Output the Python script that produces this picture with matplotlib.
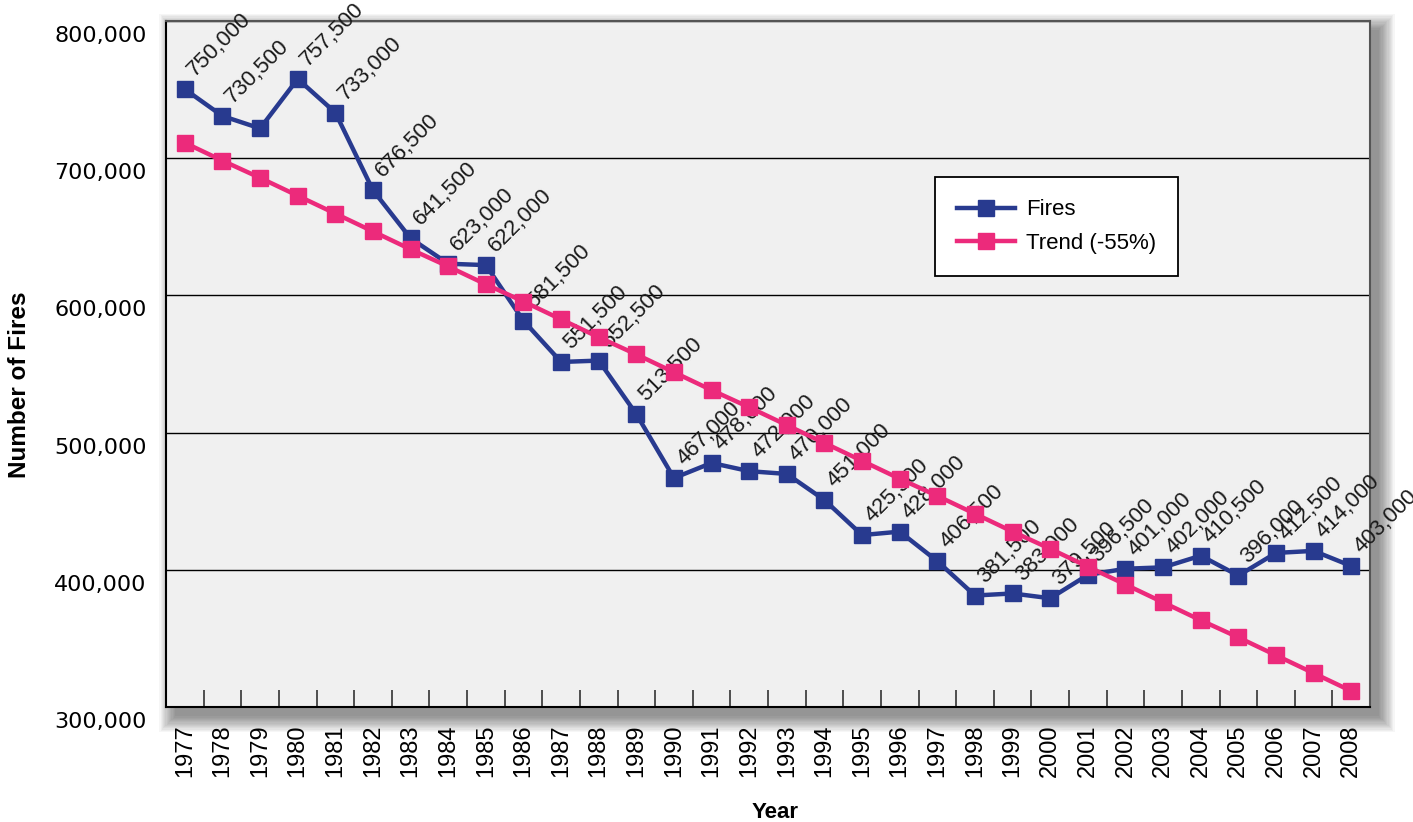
import numpy as np
import matplotlib.pyplot as plt
from matplotlib.patches import Rectangle
from matplotlib.transforms import ScaledTranslation

# Fires per year and the fitted trend line
years = list(range(1977, 2009))
fires = [750000, 730500, 721500, 757500, 733000, 676500, 641500, 623000,
         622000, 581500, 551500, 552500, 513500, 467000, 478000, 472000,
         470000, 451000, 425500, 428000, 406500, 381500, 383000, 379500,
         396500, 401000, 402000, 410500, 396000, 412500, 414000, 403000]
trend = [711000, 698000, 685500, 672500, 659500, 646500, 633500, 621000,
         608000, 595500, 582500, 569500, 557000, 544000, 531000, 518500,
         505500, 492500, 479500, 466500, 454000, 441000, 428000, 415500,
         402500, 389500, 376500, 363500, 351000, 338000, 325000, 312000]
# 1979 carries no value label
labelled = [y != 1979 for y in years]
y_ticks = [300000, 400000, 500000, 600000, 700000, 800000]

fires_color = '#283a8f'
trend_color = '#ec2a7b'
arial = 'Liberation Sans'

fig = plt.figure(figsize=(14.13, 8.22), dpi=100)
ax_rect = [0.1175, 0.1393, 0.8521, 0.8357]
ax = fig.add_axes(ax_rect)
ax.set_facecolor('#f0f0f0')

# soft drop shadow behind the plot area
W, H = 1413, 822
for i in range(14):
    grow = i * 1.2 / W
    growy = i * 1.2 / H
    fig.add_artist(Rectangle((ax_rect[0] + 9 / W - grow, ax_rect[1] - 9 / H - growy),
                             ax_rect[2] + 2 * grow, ax_rect[3] + 2 * growy,
                             transform=fig.transFigure, facecolor='black',
                             edgecolor='none', alpha=0.035, zorder=-10))

x = np.arange(len(years))
ax.plot(x, fires, color=fires_color, lw=3.2, marker='s', ms=11, label='Fires', zorder=4)
ax.plot(x, trend, color=trend_color, lw=3.2, marker='s', ms=11, label='Trend (-55%)', zorder=5)

for xi, v, keep in zip(x, fires, labelled):
    if keep:
        ax.annotate(f'{v:,}', (xi, v), xytext=(10, 12), textcoords='offset pixels',
                    rotation=45, rotation_mode='anchor', ha='left', va='baseline',
                    fontsize=16, family=arial, color='#1a1a1a', zorder=3)

ax.set_xlim(-0.5, len(years) - 0.5)
ax.set_ylim(300000, 800000)

ax.set_yticks(y_ticks)
ax.set_yticklabels([f'{v:,}' for v in y_ticks], fontsize=16)
ax.yaxis.grid(True, color='black', lw=1)
ax.set_axisbelow(True)
ax.tick_params(axis='y', length=0, pad=14)
shift = ScaledTranslation(0, -13 / 100, fig.dpi_scale_trans)
for lab in ax.get_yticklabels():
    lab.set_transform(lab.get_transform() + shift)

ax.set_xticks(x)
ax.set_xticklabels([str(y) for y in years], rotation=90, fontsize=17, family=arial)
ax.tick_params(axis='x', which='major', length=0, pad=12)
ax.set_xticks(x[:-1] + 0.5, minor=True)
ax.tick_params(axis='x', which='minor', direction='in', length=12.5, width=1.2, color='#333333')

for side in ['left', 'bottom']:
    ax.spines[side].set_color('black')
    ax.spines[side].set_linewidth(1.5)
for side in ['top', 'right']:
    ax.spines[side].set_color('#555555')
    ax.spines[side].set_linewidth(1.5)

leg = ax.legend(loc='upper left', bbox_to_anchor=(0.6387, 0.772),
                prop={'family': arial, 'size': 16},
                fancybox=False, edgecolor='black', framealpha=1, handlelength=2.6,
                borderpad=1.0, labelspacing=0.55, handletextpad=0.5, borderaxespad=0)
leg.get_frame().set_linewidth(1.3)

fig.text(20 / W, 1 - 385 / H, 'Number of Fires', rotation=90, ha='center', va='center',
         fontsize=17.5, fontweight='bold', family=arial)
fig.text(775 / W, 1 - 812 / H, 'Year', ha='center', va='center',
         fontsize=16, fontweight='bold', family=arial)

fig.savefig('out.png', dpi=100)
